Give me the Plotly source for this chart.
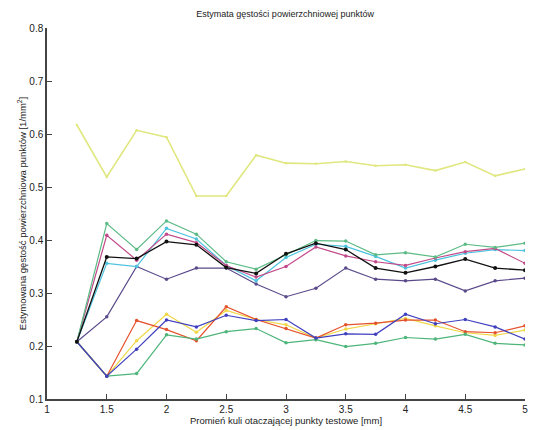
import plotly.graph_objects as go

x = [1.25, 1.5, 1.75, 2.0, 2.25, 2.5, 2.75, 3.0, 3.25, 3.5, 3.75, 4.0, 4.25, 4.5, 4.75, 5.0]

top_yellow = [0.617, 0.519, 0.607, 0.594, 0.483, 0.483, 0.560, 0.545, 0.544, 0.548, 0.540, 0.542, 0.531, 0.547, 0.521, 0.534]
green_up = [0.208, 0.431, 0.382, 0.436, 0.411, 0.359, 0.345, 0.372, 0.399, 0.398, 0.372, 0.376, 0.368, 0.392, 0.386, 0.394]
cyan_up = [0.208, 0.356, 0.350, 0.422, 0.402, 0.352, 0.323, 0.367, 0.392, 0.388, 0.369, 0.347, 0.362, 0.375, 0.382, 0.380]
magenta_up = [0.208, 0.409, 0.362, 0.411, 0.395, 0.352, 0.330, 0.350, 0.387, 0.370, 0.359, 0.352, 0.366, 0.378, 0.384, 0.356]
black_up = [0.208, 0.368, 0.365, 0.397, 0.391, 0.348, 0.337, 0.374, 0.394, 0.382, 0.347, 0.338, 0.350, 0.364, 0.347, 0.343]
purple_up = [0.208, 0.255, 0.350, 0.326, 0.347, 0.347, 0.317, 0.293, 0.309, 0.347, 0.326, 0.323, 0.326, 0.304, 0.323, 0.328]

red_low = [0.208, 0.143, 0.248, 0.231, 0.210, 0.274, 0.250, 0.233, 0.215, 0.240, 0.243, 0.249, 0.249, 0.227, 0.225, 0.238]
yellow_low = [0.208, 0.143, 0.210, 0.260, 0.226, 0.267, 0.250, 0.240, 0.215, 0.232, 0.242, 0.252, 0.238, 0.225, 0.220, 0.230]
blue_low = [0.208, 0.143, 0.194, 0.249, 0.236, 0.258, 0.248, 0.250, 0.215, 0.223, 0.222, 0.260, 0.242, 0.250, 0.236, 0.213]
green_low = [0.208, 0.143, 0.148, 0.221, 0.213, 0.227, 0.233, 0.206, 0.212, 0.199, 0.205, 0.216, 0.213, 0.222, 0.205, 0.202]

series = [
    (top_yellow, "#dfe77e", 1.6, 2.5),
    (yellow_low, "#f0d84a", 1.2, 3.5),
    (red_low, "#e5532e", 1.2, 3.5),
    (green_low, "#4db57a", 1.2, 3.5),
    (blue_low, "#3f3fbf", 1.2, 3.5),
    (purple_up, "#5a4a8a", 1.2, 3.5),
    (cyan_up, "#4cc3df", 1.2, 3.5),
    (magenta_up, "#c24a8a", 1.2, 3.5),
    (green_up, "#5dbb86", 1.2, 3.5),
    (black_up, "#111111", 1.3, 4),
]

fig = go.Figure()
for vals, col, lw, ms in series:
    fig.add_trace(go.Scatter(x=x, y=vals, mode="lines+markers",
                             line=dict(color=col, width=lw),
                             marker=dict(color=col, size=ms),
                             showlegend=False))

font = dict(family="Liberation Sans, Arial, sans-serif", size=10, color="#222")
fig.update_layout(
    width=533, height=430,
    margin=dict(l=47, r=5, t=28, b=31),
    paper_bgcolor="white", plot_bgcolor="white",
    font=font,
    title=dict(text="Estymata gęstości powierzchniowej punktów", x=0.535, xanchor="center",
               y=0.975, yanchor="top", font=dict(size=9, family="Liberation Sans, Arial, sans-serif", color="#222")),
    xaxis=dict(range=[1, 5], tickvals=[1, 1.5, 2, 2.5, 3, 3.5, 4, 4.5, 5],
               showgrid=False, zeroline=False, showline=True, linecolor="#444", linewidth=1.5,
               ticks="inside", ticklen=5, tickcolor="#444",
               title=dict(text="Promień kuli otaczającej punkty testowe [mm]", standoff=2,
                          font=dict(size=9.5))),
    yaxis=dict(range=[0.1, 0.8], tickvals=[0.1, 0.2, 0.3, 0.4, 0.5, 0.6, 0.7, 0.8],
               ticktext=["0.1", "0.2", "0.3", "0.4", "0.5", "0.6", "0.7", "0.8"],
               showgrid=False, zeroline=False, showline=True, linecolor="#444", linewidth=1.5,
               ticks="inside", ticklen=5, tickcolor="#444",
               title=dict(text="Estymowana gęstość powierzchniowa punktów [1/mm<sup>2</sup>]", standoff=1,
                          font=dict(size=9.5))),
)

fig.write_html("out.html")
